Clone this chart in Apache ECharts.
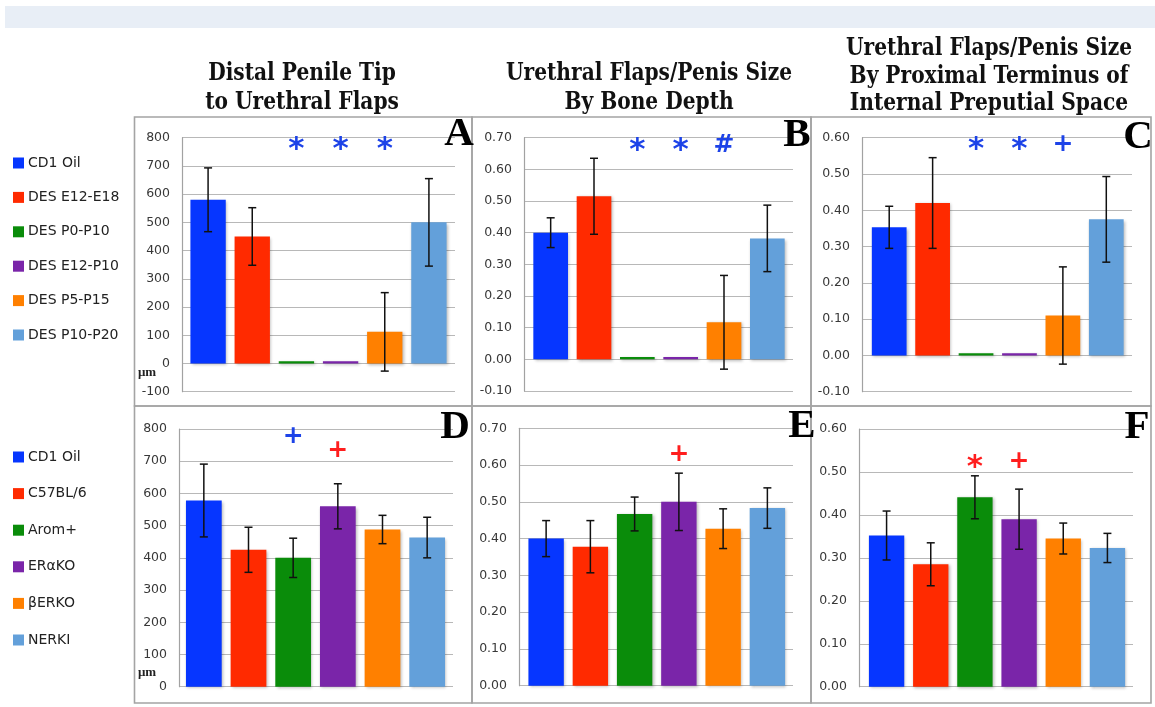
<!DOCTYPE html>
<html>
<head>
<meta charset="utf-8">
<script src="https://cdn.jsdelivr.net/npm/echarts@6/dist/echarts.min.js"></script>
<style>
  html, body { margin: 0; padding: 0; background: #ffffff; }
  #chart { width: 1155px; height: 707px; }
</style>
</head>
<body>
<div id="chart"></div>
<script>
// ---- Groups (legend labels) ----
const topGroups = ['CD1 Oil', 'DES E12-E18', 'DES P0-P10', 'DES E12-P10', 'DES P5-P15', 'DES P10-P20'];
const bottomGroups = ['CD1 Oil', 'C57BL/6', 'Arom+', 'ER\u03b1KO', '\u03b2ERKO', 'NERKI'];
const groupColors = ['#0636ff', '#ff2a00', '#0a8c0a', '#7a25a9', '#ff8000', '#63a0da'];

// ---- Panel titles ----
const titleA = ['Distal Penile Tip', 'to Urethral Flaps'];
const titleB = ['Urethral Flaps/Penis Size', 'By Bone Depth'];
const titleC = ['Urethral Flaps/Penis Size', 'By Proximal Terminus of', 'Internal Preputial Space'];

// ---- Means and error (± SD) per group ----
const valuesA = [580, 450, 8, 8, 112, 500];
const errorsA = [113, 102, 0, 0, 139, 155];
const valuesB = [0.40, 0.515, 0.007, 0.007, 0.117, 0.382];
const errorsB = [0.047, 0.12, 0, 0, 0.148, 0.105];
const valuesC = [0.353, 0.42, 0.006, 0.006, 0.11, 0.375];
const errorsC = [0.058, 0.125, 0, 0, 0.134, 0.118];
const valuesD = [578, 425, 400, 560, 488, 463];
const errorsD = [113, 70, 61, 70, 44, 63];
const valuesE = [0.40, 0.378, 0.467, 0.50, 0.427, 0.483];
const errorsE = [0.049, 0.071, 0.046, 0.078, 0.054, 0.055];
const valuesF = [0.352, 0.285, 0.441, 0.39, 0.345, 0.323];
const errorsF = [0.057, 0.05, 0.05, 0.07, 0.036, 0.034];

// ---- Significance symbols, their colours and heights (axis units) ----
const sigBlue = '#1d43e8';
const sigRed = '#ff1e1e';
const marksA = ['', '', '*', '*', '*', ''];
const markColorsA = ['', '', sigBlue, sigBlue, sigBlue, ''];
const markLevelsA = [null, null, 777, 777, 777, null];
const marksB = ['', '', '*', '*', '#', ''];
const markColorsB = ['', '', sigBlue, sigBlue, sigBlue, ''];
const markLevelsB = [null, null, 0.675, 0.675, 0.675, null];
const marksC = ['', '', '*', '*', '+', ''];
const markColorsC = ['', '', sigBlue, sigBlue, sigBlue, ''];
const markLevelsC = [null, null, 0.582, 0.582, 0.582, null];
const marksD = ['', '', '+', '+', '', ''];
const markColorsD = ['', '', sigBlue, sigRed, '', ''];
const markLevelsD = [null, null, 777, 732, null, null];
const marksE = ['', '', '', '+', '', ''];
const markColorsE = ['', '', '', sigRed, '', ''];
const markLevelsE = [null, null, null, 0.628, null, null];
const marksF = ['', '', '*', '+', '', ''];
const markColorsF = ['', '', sigRed, sigRed, '', ''];
const markLevelsF = [null, null, 0.522, 0.525, null, null];

// ---- Axis ranges ----
const rangeA = { min: -100, max: 800, interval: 100, decimals: 0 };
const rangeB = { min: -0.1, max: 0.7, interval: 0.1, decimals: 2 };
const rangeC = { min: -0.1, max: 0.6, interval: 0.1, decimals: 2 };
const rangeD = { min: 0, max: 800, interval: 100, decimals: 0 };
const rangeE = { min: 0, max: 0.7, interval: 0.1, decimals: 2 };
const rangeF = { min: 0, max: 0.6, interval: 0.1, decimals: 2 };

// Each panel has a frame grid (value axis + gridlines, full width) and
// a slightly inset bar grid sharing the same vertical scale.
const panels = [
  { letter: 'A', groups: topGroups, values: valuesA, errors: errorsA, marks: marksA, markColors: markColorsA, markLevels: markLevelsA, range: rangeA,
    top: 137.7, height: 254, axisLeft: 182, axisWidth: 273, barLeft: 186, barWidth: 265 },
  { letter: 'B', groups: topGroups, values: valuesB, errors: errorsB, marks: marksB, markColors: markColorsB, markLevels: markLevelsB, range: rangeB,
    top: 137.7, height: 253.3, axisLeft: 524, axisWidth: 269, barLeft: 529, barWidth: 260 },
  { letter: 'C', groups: topGroups, values: valuesC, errors: errorsC, marks: marksC, markColors: markColorsC, markLevels: markLevelsC, range: rangeC,
    top: 137.7, height: 254, axisLeft: 862, axisWidth: 270, barLeft: 867.5, barWidth: 260.5 },
  { letter: 'D', groups: bottomGroups, values: valuesD, errors: errorsD, marks: marksD, markColors: markColorsD, markLevels: markLevelsD, range: rangeD,
    top: 429, height: 257.7, axisLeft: 179, axisWidth: 274, barLeft: 181.5, barWidth: 268 },
  { letter: 'E', groups: bottomGroups, values: valuesE, errors: errorsE, marks: marksE, markColors: markColorsE, markLevels: markLevelsE, range: rangeE,
    top: 428.3, height: 257.4, axisLeft: 519, axisWidth: 274, barLeft: 524, barWidth: 265.5 },
  { letter: 'F', groups: bottomGroups, values: valuesF, errors: errorsF, marks: marksF, markColors: markColorsF, markLevels: markLevelsF, range: rangeF,
    top: 429, height: 257.7, axisLeft: 859, axisWidth: 274, barLeft: 864.5, barWidth: 265 }
];

const grids = [], xAxes = [], yAxes = [], series = [];

panels.forEach((p, k) => {
  const frameIdx = 2 * k, barIdx = 2 * k + 1;

  // frame grid: y axis with labels and horizontal gridlines
  grids.push({ left: p.axisLeft, top: p.top, width: p.axisWidth, height: p.height });
  xAxes.push({ type: 'category', gridIndex: frameIdx, data: p.groups, show: false });
  yAxes.push({
    type: 'value', gridIndex: frameIdx,
    min: p.range.min, max: p.range.max, interval: p.range.interval,
    axisLine: { show: true, lineStyle: { color: '#a2a2a2', width: 1.2 } },
    axisTick: { show: false },
    axisLabel: {
      color: '#383838', fontFamily: 'DejaVu Sans', fontSize: 12.5, margin: 12,
      formatter: v => Number(v).toFixed(p.range.decimals)
    },
    splitLine: { show: true, lineStyle: { color: '#b8b8b8', width: 1.2 } }
  });

  // bar grid
  grids.push({ left: p.barLeft, top: p.top, width: p.barWidth, height: p.height });
  xAxes.push({ type: 'category', gridIndex: barIdx, data: p.groups, show: false });
  yAxes.push({
    type: 'value', gridIndex: barIdx, show: false,
    min: p.range.min, max: p.range.max, interval: p.range.interval,
    splitLine: { show: false }
  });

  // bars
  series.push({
    type: 'bar', xAxisIndex: barIdx, yAxisIndex: barIdx, barCategoryGap: '20%',
    data: p.values.map((v, i) => ({
      value: v,
      itemStyle: {
        color: groupColors[i],
        shadowColor: 'rgba(0,0,0,0.28)', shadowBlur: 3, shadowOffsetX: 1.2, shadowOffsetY: 1.2
      }
    })),
    silent: true, animation: false
  });

  // error bars
  series.push({
    type: 'custom', xAxisIndex: barIdx, yAxisIndex: barIdx,
    data: p.values.map((v, i) => [i, v, p.errors[i]]),
    encode: { x: 0, y: 1 },
    z: 5, silent: true, animation: false,
    renderItem: (params, api) => {
      const i = api.value(0), v = api.value(1), e = api.value(2);
      if (!e) return null;
      const hi = api.coord([i, v + e]);
      const lo = api.coord([i, v - e]);
      const cap = 4;
      const st = { stroke: '#111', lineWidth: 1.5 };
      return {
        type: 'group',
        children: [
          { type: 'line', shape: { x1: hi[0], y1: hi[1], x2: lo[0], y2: lo[1] }, style: st },
          { type: 'line', shape: { x1: hi[0] - cap, y1: hi[1], x2: hi[0] + cap, y2: hi[1] }, style: st },
          { type: 'line', shape: { x1: lo[0] - cap, y1: lo[1], x2: lo[0] + cap, y2: lo[1] }, style: st }
        ]
      };
    }
  });

  // significance symbols
  series.push({
    type: 'custom', xAxisIndex: barIdx, yAxisIndex: barIdx,
    data: p.marks.map((m, i) => [i, p.markLevels[i] == null ? 0 : p.markLevels[i]]),
    encode: { x: 0, y: 1 },
    z: 6, silent: true, animation: false,
    renderItem: (params, api) => {
      const i = params.dataIndex;
      const sym = p.marks[i];
      if (!sym) return null;
      const pt = api.coord([api.value(0), api.value(1)]);
      const size = sym === '*' ? 31 : 25;
      const dy = sym === '*' ? 0.17 * size : 0;
      return {
        type: 'text', x: pt[0], y: pt[1] + dy,
        style: {
          text: sym, fill: p.markColors[i],
          font: 'bold ' + size + 'px "DejaVu Sans"',
          textAlign: 'center', textVerticalAlign: 'middle',
          align: 'center', verticalAlign: 'middle'
        }
      };
    }
  });
});

// ---- Decorations: band, panel frames, titles, letters, legends ----
const graphic = [];
graphic.push({ type: 'rect', shape: { x: 5, y: 6, width: 1150, height: 22 }, style: { fill: '#e8eef6' }, silent: true });

const frames = [
  [134.5, 117, 337.5, 289], [472, 117, 339, 289], [811, 117, 340, 289],
  [134.5, 406, 337.5, 297], [472, 406, 339, 297], [811, 406, 340, 297]
];
frames.forEach(f => graphic.push({
  type: 'rect', shape: { x: f[0], y: f[1], width: f[2], height: f[3] },
  style: { fill: null, stroke: '#a4a4a4', lineWidth: 1.6 }, silent: true, z: 1
}));

// Titles: a heavy serif squeezed horizontally so the longest line spans its panel
const titleFont = 'bold 24px "DejaVu Serif"';
const measureCtx = document.createElement('canvas').getContext('2d');
measureCtx.font = titleFont;
const titleScale = 286 / measureCtx.measureText('Urethral Flaps/Penis Size').width;

function titleLines(lines, cx, y0, step) {
  lines.forEach((t, j) => graphic.push({
    type: 'text', x: cx, y: y0 + j * step, scaleX: titleScale,
    style: {
      text: t, fill: '#111', font: titleFont,
      textAlign: 'center', textVerticalAlign: 'middle', align: 'center', verticalAlign: 'middle'
    }, silent: true
  }));
}
titleLines(titleA, 302, 74, 29);
titleLines(titleB, 649, 74, 29);
titleLines(titleC, 989, 49, 27.5);

const letterPos = [[459, 134], [797, 135], [1138, 137], [455, 427], [802, 426], [1137, 427]];
panels.forEach((p, k) => graphic.push({
  type: 'text', x: letterPos[k][0], y: letterPos[k][1],
  style: {
    text: p.letter, fill: '#000', font: 'bold 41px "Liberation Serif"',
    textAlign: 'center', textVerticalAlign: 'middle', align: 'center', verticalAlign: 'middle'
  }, silent: true, z: 10
}));

// unit labels on the µm axes
[[147, 373], [147, 673]].forEach(pos => graphic.push({
  type: 'text', x: pos[0], y: pos[1],
  style: {
    text: '\u03bcm', fill: '#222', font: 'bold 13px "Liberation Serif"',
    textAlign: 'center', textVerticalAlign: 'middle', align: 'center', verticalAlign: 'middle'
  }, silent: true
}));

function legend(groups, y0, step) {
  groups.forEach((g, i) => {
    const y = y0 + i * step;
    graphic.push({ type: 'rect', shape: { x: 13, y: y - 5.5, width: 11, height: 11 }, style: { fill: groupColors[i] }, silent: true });
    graphic.push({
      type: 'text', x: 28, y: y,
      style: {
        text: g, fill: '#222', font: '14px "DejaVu Sans"',
        textAlign: 'left', textVerticalAlign: 'middle', align: 'left', verticalAlign: 'middle'
      }, silent: true
    });
  });
}
legend(topGroups, 163, 34.4);
legend(bottomGroups, 457, 36.6);

const chart = echarts.init(document.getElementById('chart'), null, { renderer: 'canvas' });
chart.setOption({
  animation: false,
  backgroundColor: '#ffffff',
  grid: grids,
  xAxis: xAxes,
  yAxis: yAxes,
  series: series,
  graphic: graphic
});
</script>
</body>
</html>
